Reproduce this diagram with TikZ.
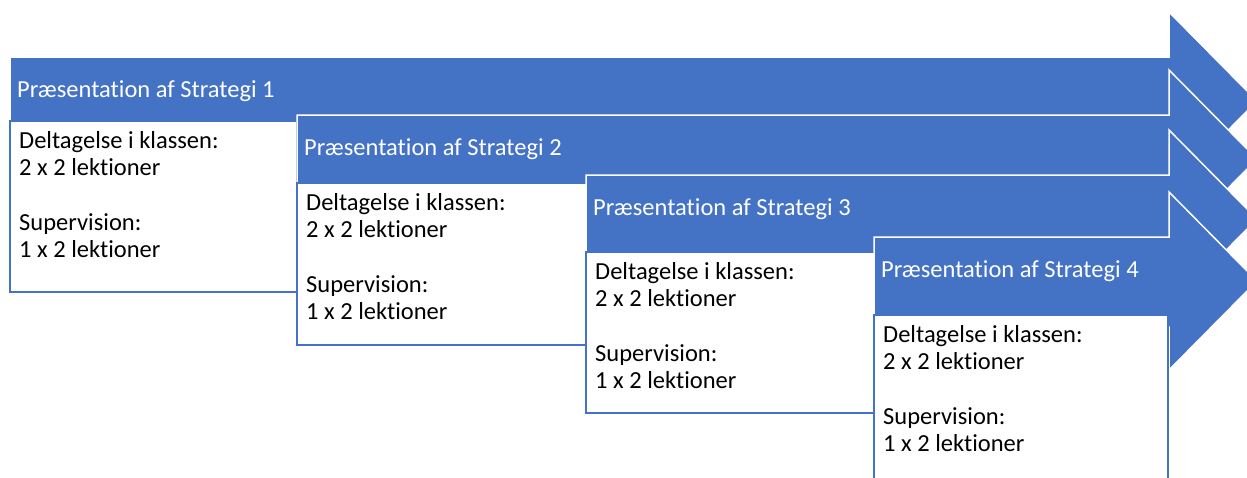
\documentclass[tikz,border=0pt]{standalone}
\usepackage{fontspec}
\setmainfont{Carlito}[Ligatures=NoCommon]
\definecolor{stepblue}{HTML}{4472C4}

\begin{document}
\begin{tikzpicture}[x=1pt,y=-1pt,
    arrowshape/.style={fill=stepblue,draw=white,line width=1.5pt},
    stepbox/.style={fill=white,draw=stepblue,line width=1.5pt},
    titletext/.style={text=white,font=\fontsize{24.5}{29}\selectfont,anchor=base west,inner sep=0pt},
    bodytext/.style={text=black,font=\fontsize{24.5}{27}\selectfont,align=left,anchor=north west,inner sep=0pt}]
    \useasboundingbox (0,0) rectangle (1247,477);
    \clip (0,0) rectangle (1247,477);

    % Define where the arrow heads start and end
    \def\headx{1169}
    \def\tipx{1257}

    % Draw the four steps: arrow, box below it, labels
    \foreach \n/\l/\t/\b/\r/\e in {1/10/57/121/297/292, 2/297/115/183/587/345,
                                   3/586/175/252/875/413, 4/874/237/315/1168/490} {
        \draw[arrowshape] (\l,\t) -- (\headx,\t) -- (\headx,\t-45) -- (\tipx,\t+44)
            -- (\headx,\t+133) -- (\headx,\t+90) -- (\l,\t+90) -- cycle;
        \draw[stepbox] (\l,\b) rectangle (\r,\e);
        \node[titletext] (title\n) at (\l+7,\t+40) {Præsentation af Strategi \n};
        \node[bodytext] (body\n) at (\l+9,\b+10)
            {Deltagelse i klassen:\\2 x 2 lektioner\\[28pt]Supervision:\\1 x 2 lektioner};
    }
\end{tikzpicture}
\end{document}
